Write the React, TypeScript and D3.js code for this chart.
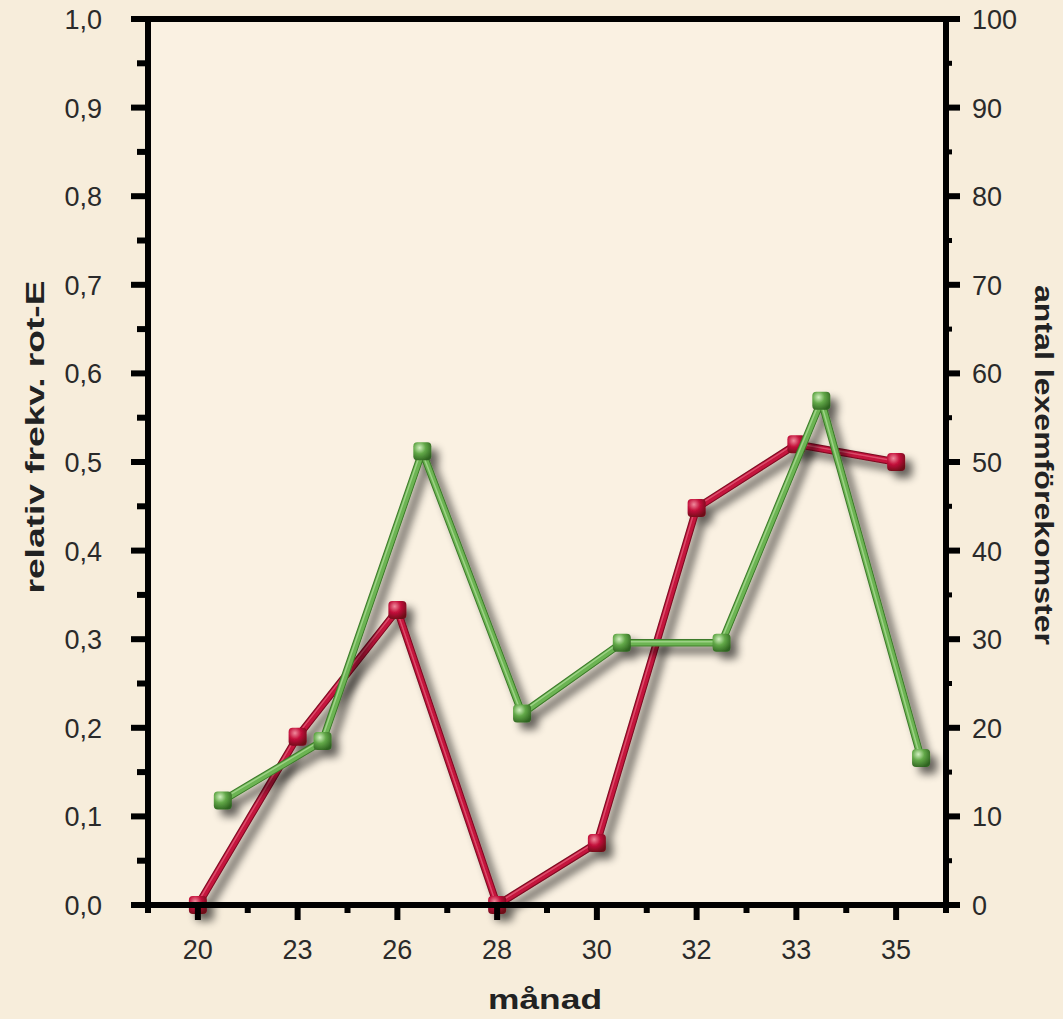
import React from "react";
import * as d3 from "d3";

const categories = ["20", "23", "26", "28", "30", "32", "33", "35"];
const redValues = [0, 0.19, 0.333, 0, 0.07, 0.448, 0.52, 0.5];
const greenValues = [11.8, 18.5, 51.2, 21.6, 29.6, 29.6, 56.9, 16.6];
const leftTicks = [0, 0.1, 0.2, 0.3, 0.4, 0.5, 0.6, 0.7, 0.8, 0.9, 1.0];
const rightTicks = [0, 10, 20, 30, 40, 50, 60, 70, 80, 90, 100];
const leftTitle = "relativ frekv. rot-E";
const rightTitle = "antal lexemförekomster";
const xTitle = "månad";

const W = 1063;
const H = 1019;
const L = 148;
const R = 946;
const T = 19;
const B = 905;

export default function App() {
  const x = d3.scaleBand<string>().domain(categories).range([L, R]).padding(0);
  const bw = x.bandwidth();
  const yL = d3.scaleLinear().domain([0, 1]).range([B, T]);
  const yR = d3.scaleLinear().domain([0, 100]).range([B, T]);

  const redPts: [number, number][] = categories.map((c, i) => [x(c)! + bw / 2, yL(redValues[i])]);
  const greenPts: [number, number][] = categories.map((c, i) => [x(c)! + bw * 0.75, yR(greenValues[i])]);
  const line = d3.line();

  const minorL = d3.range(0.05, 1, 0.1);
  const minorR = d3.range(5, 100, 10);
  const tickFont = "'Liberation Sans', Arial, sans-serif";

  const series = [
    { pts: redPts, dark: "#7a0a20", main: "#c4123c", light: "#ef7d92", grad: "gRed" },
    { pts: greenPts, dark: "#3c7a2a", main: "#6cb452", light: "#c4ebb0", grad: "gGreen" },
  ];

  return (
    <svg width={W} height={H} style={{ position: "absolute", left: 0, top: 0 }}>
      <defs>
        <filter id="shadow" x="-20%" y="-20%" width="140%" height="140%">
          <feGaussianBlur in="SourceAlpha" stdDeviation="4" result="b" />
          <feOffset in="b" dx="7" dy="7" result="o" />
          <feComponentTransfer in="o" result="s">
            <feFuncA type="linear" slope="0.6" />
          </feComponentTransfer>
          <feMerge>
            <feMergeNode in="s" />
            <feMergeNode in="SourceGraphic" />
          </feMerge>
        </filter>
        <radialGradient id="gRed" cx="35%" cy="30%" r="75%">
          <stop offset="0%" stopColor="#f08a9c" />
          <stop offset="45%" stopColor="#c4123c" />
          <stop offset="100%" stopColor="#6e0818" />
        </radialGradient>
        <radialGradient id="gGreen" cx="35%" cy="30%" r="75%">
          <stop offset="0%" stopColor="#d2f0c0" />
          <stop offset="45%" stopColor="#62a848" />
          <stop offset="100%" stopColor="#2f6420" />
        </radialGradient>
      </defs>
      <rect x={0} y={0} width={W} height={H} fill="#f7eddb" />
      <rect x={L} y={T} width={R - L} height={B - T} fill="#faf1e2" />

      {series.map((s, k) => (
        <g key={k} filter="url(#shadow)">
          <path d={line(s.pts)!} fill="none" stroke={s.dark} strokeWidth={7.5} strokeLinejoin="round" />
          <path d={line(s.pts)!} fill="none" stroke={s.main} strokeWidth={5.5} strokeLinejoin="round" />
          <path
            d={line(s.pts)!}
            fill="none"
            stroke={s.light}
            strokeWidth={1.5}
            strokeOpacity={0.55}
            transform="translate(-1,-1)"
          />
          {s.pts.map((p, i) => (
            <rect
              key={i}
              x={p[0] - 9}
              y={p[1] - 9}
              width={18}
              height={18}
              rx={4}
              fill={`url(#${s.grad})`}
            />
          ))}
        </g>
      ))}

      {/* axes frame */}
      <g fill="#000">
        <rect x={131} y={T - 3} width={960 - 131} height={6} />
        <rect x={131} y={B - 3} width={960 - 131} height={6} />
        <rect x={L - 3} y={T - 3} width={6} height={B - T + 11} />
        <rect x={R - 3} y={T - 3} width={6} height={B - T + 11} />
        {leftTicks.map((t) => (
          <rect key={"lt" + t} x={131} y={yL(t) - 3} width={L - 131} height={6} />
        ))}
        {minorL.map((t) => (
          <rect key={"lm" + t} x={137} y={yL(t) - 3} width={L - 137} height={6} />
        ))}
        {rightTicks.map((t) => (
          <rect key={"rt" + t} x={R} y={yR(t) - 3} width={960 - R} height={6} />
        ))}
        {minorR.map((t) => (
          <rect key={"rm" + t} x={R} y={yR(t) - 2.5} width={6} height={5} />
        ))}
        {categories.map((c) => (
          <rect key={"bt" + c} x={x(c)! + bw / 2 - 3} y={B} width={6} height={15} />
        ))}
        {categories.slice(1).map((c) => (
          <rect key={"bm" + c} x={x(c)! - 3} y={B} width={6} height={8} />
        ))}
      </g>

      {/* tick labels */}
      <g fontFamily={tickFont} fontSize={27} fill="#2a2a2a">
        {leftTicks.map((t) => (
          <text key={"ll" + t} x={102} y={yL(t) + 10} textAnchor="end">
            {t.toFixed(1).replace(".", ",")}
          </text>
        ))}
        {rightTicks.map((t) => (
          <text key={"rl" + t} x={972} y={yR(t) + 10} textAnchor="start">
            {t}
          </text>
        ))}
        {categories.map((c) => (
          <text key={"bl" + c} x={x(c)! + bw / 2} y={959} textAnchor="middle">
            {c}
          </text>
        ))}
      </g>

      {/* titles */}
      <g fontFamily={tickFont} fontWeight="bold" fill="#222">
        <text
          transform={`translate(44,437) rotate(-90)`}
          textAnchor="middle"
          fontSize={25}
          textLength={313}
          lengthAdjust="spacingAndGlyphs"
        >
          {leftTitle}
        </text>
        <text
          transform={`translate(1035,465) rotate(90)`}
          textAnchor="middle"
          fontSize={25}
          textLength={360}
          lengthAdjust="spacingAndGlyphs"
        >
          {rightTitle}
        </text>
        <text x={545} y={1009} textAnchor="middle" fontSize={27} textLength={114} lengthAdjust="spacingAndGlyphs">
          {xTitle}
        </text>
      </g>
    </svg>
  );
}
